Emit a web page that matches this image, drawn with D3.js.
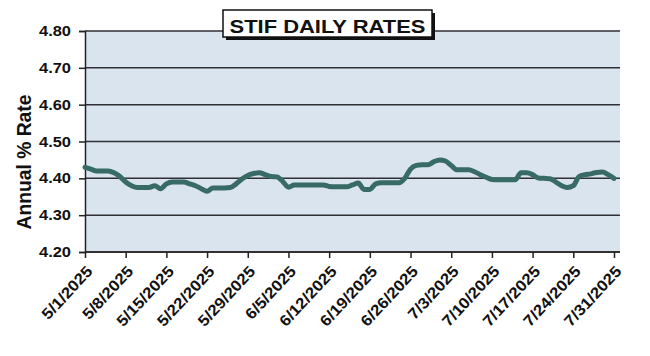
<!DOCTYPE html>
<html><head><meta charset="utf-8">
<script src="https://cdn.jsdelivr.net/npm/d3@7/dist/d3.min.js"></script>
<style>body{margin:0;background:#fff}svg{display:block}text{font-family:"Liberation Sans",Arial,sans-serif;font-weight:bold;fill:#111}</style>
</head><body><svg id="c" width="650" height="356"></svg>
<script>
const title = "STIF DAILY RATES";
const yTitle = "Annual % Rate";
const startDate = "2025-05-01";
// daily rates 5/1/2025 .. 7/31/2025
const rates = [
 4.430,4.425,4.420,4.420,4.420,4.415,4.405,4.390,4.380,4.375,
 4.375,4.375,4.380,4.372,4.385,4.390,4.390,4.390,4.385,4.380,
 4.372,4.365,4.374,4.374,4.374,4.375,4.385,4.398,4.408,4.413,
 4.415,4.410,4.405,4.404,4.392,4.376,4.382,4.382,4.382,4.382,
 4.382,4.382,4.378,4.377,4.377,4.377,4.382,4.387,4.370,4.370,
 4.385,4.388,4.388,4.388,4.388,4.400,4.425,4.435,4.437,4.437,
 4.445,4.450,4.447,4.435,4.423,4.423,4.423,4.418,4.410,4.403,
 4.397,4.396,4.396,4.396,4.396,4.415,4.415,4.410,4.401,4.400,
 4.399,4.390,4.380,4.375,4.380,4.405,4.410,4.412,4.416,4.417,
 4.410,4.400
];
const xTickLabels = ["5/1/2025","5/8/2025","5/15/2025","5/22/2025","5/29/2025","6/5/2025","6/12/2025","6/19/2025","6/26/2025","7/3/2025","7/10/2025","7/17/2025","7/24/2025","7/31/2025"];
const yTicks = [4.20,4.30,4.40,4.50,4.60,4.70,4.80];

const parseISO = d3.timeParse("%Y-%m-%d");
const parseMDY = d3.timeParse("%m/%d/%Y");
const t0 = parseISO(startDate);
const data = rates.map((v,i)=>({date:d3.timeDay.offset(t0,i), v}));

const svg = d3.select("#c");
const L=85, R=620, T=31, B=252;
const x = d3.scaleTime().domain([t0, parseMDY("7/31/2025")]).range([L, 614]);
const y = d3.scaleLinear().domain([4.20,4.80]).range([B, T]);

svg.append("rect").attr("x",L).attr("y",T).attr("width",R-L).attr("height",B-T).attr("fill","#dae4ef");

// gridlines
svg.append("g").selectAll("line").data(yTicks).join("line")
  .attr("x1",L).attr("x2",R).attr("y1",d=>y(d)).attr("y2",d=>y(d))
  .attr("stroke","#2f2f35").attr("stroke-width",1.5);

// y axis
const ya = svg.append("g").attr("transform",`translate(${L},0)`)
  .call(d3.axisLeft(y).tickValues(yTicks).tickSize(6).tickFormat(d3.format(".2f")));
ya.select(".domain").attr("stroke","#222").attr("stroke-width",1.5);
ya.selectAll(".tick line").attr("stroke","#222").attr("stroke-width",1.5);
ya.selectAll(".tick text").attr("x",-14).attr("font-size",14.5).attr("font-family",null)
  .attr("textLength",32).attr("lengthAdjust","spacingAndGlyphs").attr("fill","#111");

// x axis
const xa = svg.append("g").attr("transform",`translate(0,${B})`)
  .call(d3.axisBottom(x).tickValues(xTickLabels.map(parseMDY)).tickSize(6).tickFormat((d,i)=>xTickLabels[i]));
xa.select(".domain").attr("d",`M${L},0H${R}`).attr("stroke","#222").attr("stroke-width",1.5);
xa.selectAll(".tick line").attr("stroke","#222").attr("stroke-width",1.5);
xa.selectAll(".tick text").attr("font-size",15.5).attr("font-family",null).attr("fill","#111")
  .attr("text-anchor","end").attr("y",0).attr("dy",0)
  .attr("transform","translate(8,20) rotate(-47)")
  .each(function(){ const w=this.getComputedTextLength(); d3.select(this).attr("textLength",w*1.1).attr("lengthAdjust","spacingAndGlyphs"); });

// line
const line = d3.line().x(d=>x(d.date)).y(d=>y(d.v)).curve(d3.curveMonotoneX);
svg.append("path").datum(data).attr("d",line).attr("fill","none")
  .attr("stroke","#386a66").attr("stroke-width",5).attr("stroke-linejoin","round").attr("stroke-linecap","round");

// title box
svg.append("rect").attr("x",226).attr("y",13).attr("width",209).attr("height",27).attr("fill","#111");
svg.append("rect").attr("x",223).attr("y",10).attr("width",209).attr("height",27).attr("fill","#fff").attr("stroke","#111").attr("stroke-width",1.5);
svg.append("text").attr("x",327.5).attr("y",33).attr("text-anchor","middle").attr("font-size",19)
  .attr("textLength",196).attr("lengthAdjust","spacingAndGlyphs").text(title);

// y title
svg.append("text").attr("transform","translate(31,162) rotate(-90)").attr("text-anchor","middle")
  .attr("font-size",19.5).attr("fill","#222").attr("textLength",135).attr("lengthAdjust","spacingAndGlyphs").text(yTitle);
</script></body></html>
